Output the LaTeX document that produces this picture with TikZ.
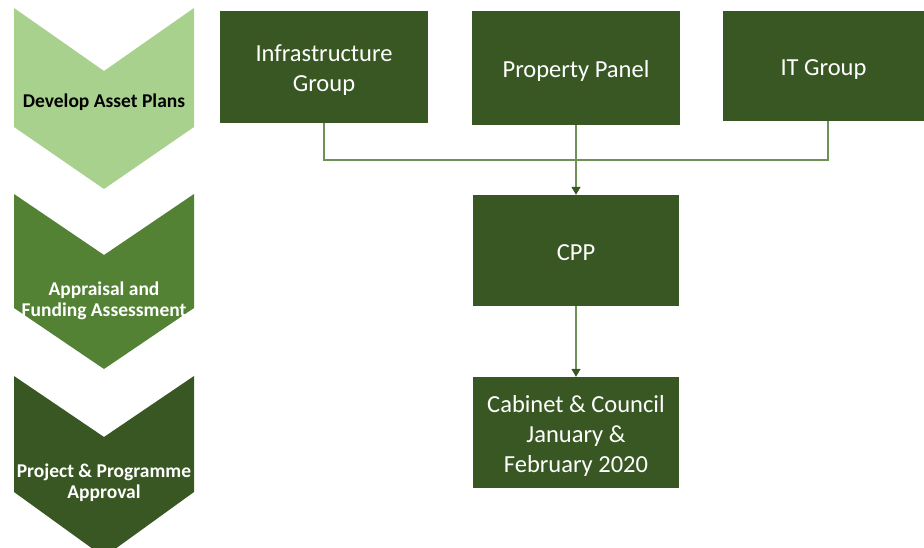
\documentclass[tikz,border=0pt]{standalone}
\usepackage{fontspec}
\setmainfont{Carlito}
\usetikzlibrary{arrows.meta}
\definecolor{lightg}{HTML}{A9D18E}
\definecolor{midg}{HTML}{548235}
\definecolor{darkg}{HTML}{385723}
\definecolor{lineg}{HTML}{6E9156}
\tikzset{
  box/.style={fill=darkg, draw=none, minimum width=208pt, minimum height=112pt, inner sep=0pt},
  boxtext/.style={text=white, align=center, font=\fontsize{24.5}{30}\selectfont, inner sep=0pt},
  chevlabel/.style={align=center, font=\bfseries\fontsize{19.5}{21}\selectfont, inner sep=0pt},
  conn/.style={draw=lineg, line width=1.2pt},
  arr/.style={conn, -{Triangle[width=9pt,length=8pt,fill=darkg,color=darkg]}}
}
\begin{document}
\begin{tikzpicture}[x=1pt,y=-1pt]
\useasboundingbox (0,0) rectangle (924,548);
\clip (0,0) rectangle (924,548);
% chevrons
\fill[lightg] (14,8) -- (104,71) -- (194,8) -- (194,127) -- (104,189) -- (14,127) -- cycle;
\fill[midg] (14,194) -- (104,255) -- (194,194) -- (194,308) -- (104,369) -- (14,308) -- cycle;
\fill[darkg] (14,376) -- (104,437) -- (194,376) -- (194,492) -- (104,557) -- (14,492) -- cycle;
\node[chevlabel, text=black] (c1) at (104,102.5) {Develop Asset Plans};
\node[chevlabel, text=white] (c2) at (104,301) {Appraisal and\\Funding Assessment};
\node[chevlabel, text=white] (c3) at (104,483) {Project \& Programme\\Approval};
% boxes
\node[box] (infra) at (324,67) {};
\node[box, minimum height=114pt] (prop) at (576,68) {};
\node[box, minimum width=201pt, minimum height=110pt] (itg) at (823.5,66) {};
\node[box, minimum width=206pt, minimum height=111pt] (cpp) at (576,250.5) {};
\node[box, minimum width=206pt, minimum height=111pt] (cab) at (576,432.5) {};
\node[boxtext] (infrat) at ([yshift=-3pt]infra.center) {Infrastructure\\Group};
\node[boxtext] (propt) at ([yshift=-3pt]prop.center) {Property Panel};
\node[boxtext] (itgt) at ([yshift=-3.5pt]itg.center) {IT Group};
\node[boxtext] (cppt) at ([yshift=-2pt]cpp.center) {CPP};
\node[boxtext] (cabt) at ([yshift=-3pt]cab.center) {Cabinet \& Council\\January \&\\February 2020};
% connectors
\coordinate (jn) at (576,160);
\draw[conn] (infra.south) |- (jn);
\draw[conn] (itg.south -| 828,0) |- (jn);
\draw[arr] (prop.south) -- (cpp.north);
\draw[arr] (cpp.south) -- (cab.north);
\end{tikzpicture}
\end{document}
